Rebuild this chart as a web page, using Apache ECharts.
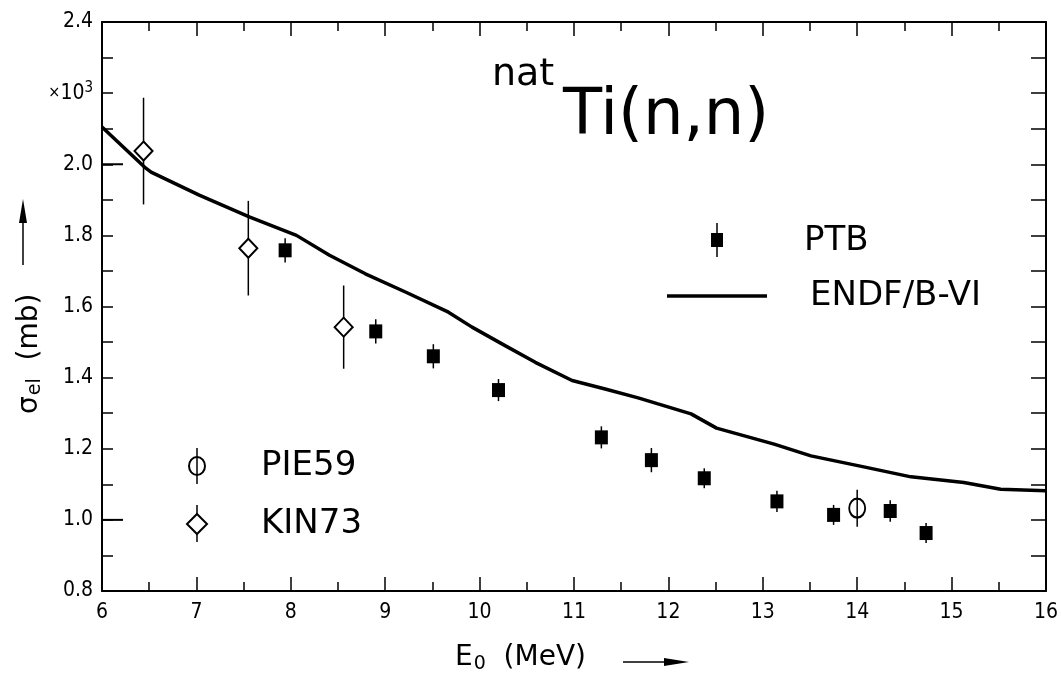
<!DOCTYPE html>
<html>
<head>
<meta charset="utf-8">
<script src="https://cdn.jsdelivr.net/npm/echarts@6/dist/echarts.min.js"></script>
<style>
html,body{margin:0;padding:0;background:#fff;}
#chart{width:1061px;height:678px;}
</style>
</head>
<body>
<div id="chart"></div>
<script>
// ---- data ----
var ptbX   = [7.94, 8.90, 9.51, 10.20, 11.29, 11.82, 12.38, 13.15, 13.75, 14.35, 14.73];
var ptbY   = [1.758, 1.530, 1.460, 1.365, 1.232, 1.168, 1.117, 1.052, 1.014, 1.025, 0.963];
var ptbErr = [0.034, 0.034, 0.034, 0.031, 0.031, 0.034, 0.028, 0.030, 0.028, 0.030, 0.028];

var kinX   = [6.44, 7.55, 8.56];
var kinY   = [2.037, 1.764, 1.542];
var kinErr = [0.150, 0.133, 0.117];

var pieX   = [14.0];
var pieY   = [1.033];
var pieErr = [0.052];

var endfX = [6.0, 6.45, 6.52, 7.03, 7.56, 8.06, 8.41, 8.79, 9.22, 9.67, 9.92, 10.27, 10.59, 10.98, 11.33, 11.68, 11.89, 12.24, 12.51, 13.12, 13.51, 14.07, 14.57, 15.13, 15.52, 16.0];
var endfY = [2.105, 1.992, 1.978, 1.913, 1.852, 1.800, 1.744, 1.692, 1.640, 1.584, 1.542, 1.490, 1.443, 1.392, 1.368, 1.343, 1.326, 1.298, 1.258, 1.213, 1.180, 1.149, 1.121, 1.105, 1.086, 1.082];

var longYTicks = [1.0, 2.0];

var xMin = 6, xMax = 16, xStep = 1;
var yMin = 0.8, yMax = 2.4, yStep = 0.2;

// ---- helpers ----
function zip(a, b, c) { return a.map(function (v, i) { return c ? [v, b[i], c[i]] : [v, b[i]]; }); }
var FONT = "'DejaVu Sans Condensed', 'DejaVu Sans', sans-serif";
var LFONT = "'DejaVu Sans', sans-serif";
var TFONT = "'DejaVu Sans ExtraLight', 'DejaVu Sans', sans-serif";

function errRender(params, api) {
  var x = api.value(0), y = api.value(1), e = api.value(2);
  var p1 = api.coord([x, y - e]), p2 = api.coord([x, y + e]);
  return { type: 'line', shape: { x1: p1[0], y1: p1[1], x2: p2[0], y2: p2[1] },
           style: { stroke: '#000', lineWidth: 1.5 } };
}
function longTickRender(params, api) {
  var y = api.value(0);
  var p = api.coord([xMin, y]);
  return { type: 'line', shape: { x1: p[0], y1: p[1], x2: p[0] + 21, y2: p[1] },
           style: { stroke: '#000', lineWidth: 2 } };
}

var axisBase = {
  type: 'value', splitLine: { show: false },
  axisLine: { show: true, onZero: false, lineStyle: { color: '#000', width: 2 } },
  axisTick: { show: true, inside: true, length: 14, lineStyle: { color: '#000', width: 1.5 } },
  minorTick: { show: true, splitNumber: 2, length: 9, lineStyle: { color: '#000', width: 1.5 } },
  minorSplitLine: { show: false }
};
function ax(extra) { return Object.assign({}, JSON.parse(JSON.stringify(axisBase)), extra); }

var chart = echarts.init(document.getElementById('chart'), null, { renderer: 'canvas' });
var option = {
  backgroundColor: '#fff',
  animation: false,
  grid: { left: 102, right: 12, top: 22, bottom: 87, containLabel: false },
  xAxis: [
    ax({ min: xMin, max: xMax, interval: xStep, position: 'bottom',
         axisLabel: { color: '#000', fontSize: 21, fontFamily: FONT, margin: 11 } }),
    ax({ min: xMin, max: xMax, interval: xStep, position: 'top',
         axisLabel: { show: false } })
  ],
  yAxis: [
    ax({ min: yMin, max: yMax, interval: yStep, position: 'left',
         axisTick: { show: true, inside: true, length: 11, lineStyle: { color: '#000', width: 1.5 } },
         minorTick: { show: true, splitNumber: 2, length: 11, lineStyle: { color: '#000', width: 1.5 } },
         axisLabel: { color: '#000', fontSize: 21, fontFamily: FONT, margin: 9,
           rich: { x: { fontSize: 16, fontFamily: FONT, color: '#000' },
                   a: { fontSize: 21, fontFamily: FONT, color: '#000' },
                   s: { fontSize: 15, fontFamily: FONT, color: '#000', padding: [0, 0, 10, 0] } },
           formatter: function (v) { return Math.abs(v - 2.2) < 1e-6 ? '{x|×}{a|10}{s|3}' : v.toFixed(1); } } }),
    ax({ min: yMin, max: yMax, interval: yStep, position: 'right',
         axisTick: { show: true, inside: true, length: 15, lineStyle: { color: '#000', width: 1.5 } },
         minorTick: { show: true, splitNumber: 2, length: 15, lineStyle: { color: '#000', width: 1.5 } },
         axisLabel: { show: false } })
  ],
  series: [
    { type: 'line', name: 'ENDF/B-VI', data: zip(endfX, endfY), showSymbol: false, symbol: 'none',
      lineStyle: { color: '#000', width: 3.5 }, z: 3 },
    { type: 'custom', name: 'errPTB', data: zip(ptbX, ptbY, ptbErr), renderItem: errRender, z: 4 },
    { type: 'custom', name: 'errKIN', data: zip(kinX, kinY, kinErr), renderItem: errRender, z: 4 },
    { type: 'custom', name: 'errPIE', data: zip(pieX, pieY, pieErr), renderItem: errRender, z: 4 },
    { type: 'scatter', name: 'PTB', data: zip(ptbX, ptbY), symbol: 'rect', symbolSize: [13, 14],
      itemStyle: { color: '#000', opacity: 1 }, z: 5 },
    { type: 'scatter', name: 'KIN73', data: zip(kinX, kinY), symbol: 'diamond', symbolSize: [18, 19],
      itemStyle: { color: '#fff', borderColor: '#000', borderWidth: 2, opacity: 1 }, z: 5 },
    { type: 'scatter', name: 'PIE59', data: zip(pieX, pieY), symbol: 'circle', symbolSize: [16, 19],
      itemStyle: { color: 'rgba(0,0,0,0)', borderColor: '#000', borderWidth: 2, opacity: 1 }, z: 5 },
    { type: 'custom', name: 'longTicks', data: longYTicks.map(function (v) { return [v]; }),
      renderItem: longTickRender, z: 6, clip: false }
  ],
  graphic: [
    // title
    { type: 'text', left: 492, top: 56, style: { text: 'nat', font: '38px ' + TFONT, fill: '#000' } },
    { type: 'text', left: 563, top: 85, style: { text: 'Ti(n,n)', font: '64px ' + TFONT, fill: '#000' } },
    // legend PTB
    { type: 'line', shape: { x1: 717, y1: 223, x2: 717, y2: 257 }, style: { stroke: '#000', lineWidth: 1.5 } },
    { type: 'rect', shape: { x: 711, y: 233, width: 12, height: 14 }, style: { fill: '#000' } },
    { type: 'text', left: 804, top: 224, style: { text: 'PTB', font: '34px ' + TFONT, fill: '#000' } },
    // legend ENDF
    { type: 'line', shape: { x1: 667, y1: 296, x2: 767, y2: 296 }, style: { stroke: '#000', lineWidth: 3.5 } },
    { type: 'text', left: 810, top: 279, style: { text: 'ENDF/B-VI', font: '34px ' + TFONT, fill: '#000' } },
    // legend PIE59
    { type: 'line', shape: { x1: 197, y1: 448, x2: 197, y2: 484 }, style: { stroke: '#000', lineWidth: 1.5 } },
    { type: 'ellipse', shape: { cx: 197, cy: 466, rx: 8, ry: 9 }, style: { fill: 'none', stroke: '#000', lineWidth: 2 } },
    { type: 'text', left: 261, top: 449, style: { text: 'PIE59', font: '34px ' + TFONT, fill: '#000' } },
    // legend KIN73
    { type: 'line', shape: { x1: 197, y1: 505, x2: 197, y2: 542 }, style: { stroke: '#000', lineWidth: 1.5 } },
    { type: 'polygon', shape: { points: [[197, 514], [207, 524], [197, 534], [187, 524]] }, style: { fill: '#fff', stroke: '#000', lineWidth: 2 } },
    { type: 'text', left: 261, top: 507, style: { text: 'KIN73', font: '34px ' + TFONT, fill: '#000' } },
    // x axis title
    { type: 'text', left: 455, top: 644, style: {
        text: '{a|E}{s|0}{a|  (MeV)}',
        rich: { a: { fontSize: 28, fontFamily: TFONT, color: '#000' },
                s: { fontSize: 19, fontFamily: TFONT, color: '#000', padding: [12, 0, 0, 1] } } } },
    { type: 'line', shape: { x1: 623, y1: 662, x2: 670, y2: 662 }, style: { stroke: '#000', lineWidth: 1.5 } },
    { type: 'polygon', shape: { points: [[664, 658], [689, 662], [664, 666]] }, style: { fill: '#000' } },
    // y axis title
    { type: 'text', x: 14, y: 414, rotation: Math.PI / 2, style: {
        text: '{a|σ}{s|el}{a|  (mb)}',
        rich: { a: { fontSize: 28, fontFamily: TFONT, color: '#000' },
                s: { fontSize: 19, fontFamily: TFONT, color: '#000', padding: [12, 0, 0, 1] } } } },
    { type: 'line', shape: { x1: 23, y1: 215, x2: 23, y2: 265 }, style: { stroke: '#000', lineWidth: 1.5 } },
    { type: 'polygon', shape: { points: [[19, 223], [23, 199], [27, 223]] }, style: { fill: '#000' } }
  ]
};
chart.setOption(option);
</script>
</body>
</html>
